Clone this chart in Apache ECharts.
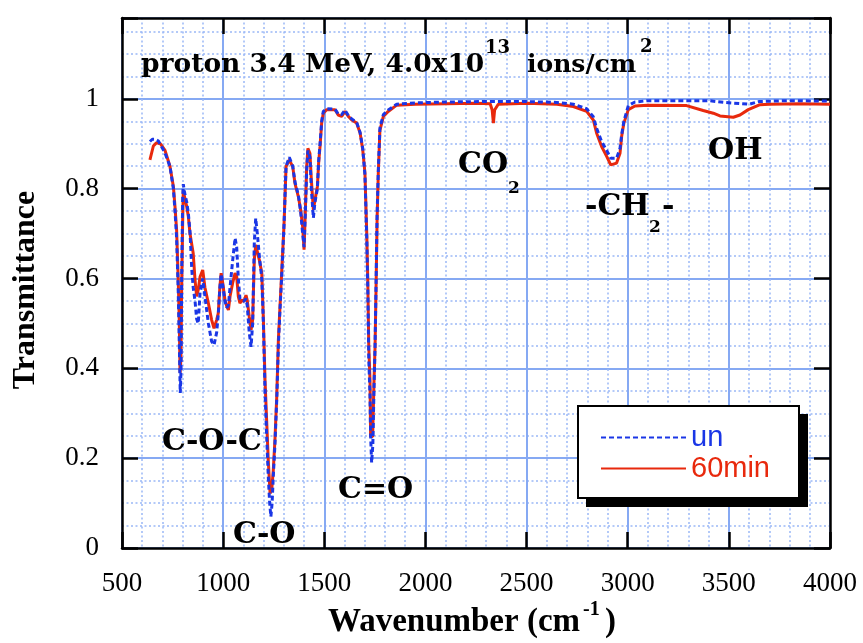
<!DOCTYPE html>
<html>
<head>
<meta charset="utf-8">
<script src="https://cdn.jsdelivr.net/npm/echarts@6/dist/echarts.min.js"></script>
<style>
  html, body { margin: 0; padding: 0; background: #fff; }
  #chart { width: 863px; height: 643px; }
</style>
</head>
<body>
<div id="chart"></div>
<script>
// wavenumber (cm-1) / transmittance pairs
const irradiated60 = [
  [638, 0.864], [655, 0.895], [670, 0.902], [690, 0.90], [712, 0.886], [737, 0.85],
  [754, 0.805], [762, 0.76], [770, 0.708], [778, 0.597], [783, 0.508], [787, 0.39],
  [791, 0.42], [795, 0.58], [800, 0.73], [803, 0.797], [810, 0.78], [820, 0.76],
  [828, 0.738], [836, 0.70], [852, 0.656], [861, 0.597], [869, 0.56], [877, 0.575],
  [886, 0.604], [899, 0.619], [910, 0.58], [927, 0.545], [943, 0.508], [955, 0.489],
  [968, 0.508], [976, 0.523], [984, 0.582], [990, 0.612], [998, 0.59], [1009, 0.552],
  [1018, 0.538], [1026, 0.53], [1034, 0.56], [1047, 0.59], [1059, 0.612], [1067, 0.604],
  [1075, 0.56], [1083, 0.545], [1092, 0.552], [1103, 0.549], [1113, 0.563], [1119, 0.552],
  [1129, 0.515], [1138, 0.486], [1146, 0.508], [1154, 0.641], [1161, 0.675], [1169, 0.675],
  [1179, 0.641], [1191, 0.612], [1199, 0.508], [1207, 0.374], [1215, 0.285], [1223, 0.196],
  [1232, 0.122], [1240, 0.129], [1248, 0.174], [1256, 0.24], [1265, 0.337], [1273, 0.463],
  [1281, 0.537], [1289, 0.61], [1301, 0.72], [1311, 0.849], [1327, 0.864], [1344, 0.849],
  [1355, 0.812], [1372, 0.782], [1383, 0.753], [1393, 0.716], [1400, 0.664], [1406, 0.745],
  [1413, 0.849], [1419, 0.89], [1429, 0.879], [1436, 0.82], [1446, 0.753], [1454, 0.775],
  [1466, 0.805], [1472, 0.857], [1479, 0.894], [1487, 0.946], [1495, 0.968], [1512, 0.976],
  [1553, 0.976], [1569, 0.964], [1586, 0.961], [1602, 0.972], [1619, 0.961], [1636, 0.953],
  [1660, 0.946], [1677, 0.924], [1690, 0.887], [1701, 0.835], [1710, 0.70], [1715, 0.597],
  [1720, 0.448], [1726, 0.374], [1729, 0.248], [1739, 0.248], [1746, 0.374], [1751, 0.448],
  [1756, 0.58], [1761, 0.73], [1767, 0.835], [1775, 0.93], [1792, 0.961], [1816, 0.972],
  [1858, 0.986], [1950, 0.988], [2100, 0.989], [2250, 0.99], [2320, 0.989], [2330, 0.975],
  [2336, 0.946], [2342, 0.975], [2360, 0.988], [2500, 0.99], [2650, 0.988], [2731, 0.983],
  [2797, 0.972], [2830, 0.953], [2846, 0.924], [2871, 0.894], [2896, 0.872], [2916, 0.853],
  [2945, 0.857], [2962, 0.879], [2970, 0.916], [2981, 0.946], [3003, 0.976], [3036, 0.984],
  [3100, 0.986], [3291, 0.985], [3373, 0.974], [3423, 0.968], [3456, 0.962], [3522, 0.959],
  [3555, 0.964], [3596, 0.976], [3654, 0.987], [3700, 0.988], [3850, 0.989], [4000, 0.988]
];

const unirradiated = [
  [638, 0.905], [650, 0.91], [665, 0.91], [680, 0.906], [700, 0.89], [712, 0.88],
  [737, 0.85], [754, 0.80], [762, 0.75], [770, 0.69], [778, 0.57], [783, 0.46],
  [788, 0.345], [792, 0.40], [795, 0.60], [800, 0.78], [803, 0.81], [810, 0.79],
  [820, 0.77], [828, 0.745], [836, 0.705], [845, 0.62], [852, 0.58], [861, 0.55],
  [869, 0.51], [877, 0.50], [886, 0.57], [899, 0.60], [910, 0.56], [927, 0.50],
  [943, 0.46], [955, 0.452], [968, 0.48], [976, 0.52], [984, 0.58], [990, 0.61],
  [998, 0.585], [1009, 0.55], [1018, 0.535], [1026, 0.54], [1034, 0.58], [1047, 0.64],
  [1059, 0.69], [1067, 0.67], [1075, 0.60], [1083, 0.555], [1092, 0.55], [1103, 0.55],
  [1113, 0.555], [1119, 0.54], [1129, 0.48], [1138, 0.448], [1146, 0.50], [1154, 0.68],
  [1161, 0.734], [1169, 0.70], [1179, 0.65], [1191, 0.60], [1199, 0.50], [1207, 0.35],
  [1215, 0.25], [1223, 0.16], [1230, 0.10], [1236, 0.07], [1242, 0.10], [1248, 0.16],
  [1256, 0.23], [1265, 0.33], [1273, 0.45], [1281, 0.53], [1289, 0.60], [1301, 0.72],
  [1311, 0.85], [1327, 0.87], [1336, 0.86], [1344, 0.85], [1355, 0.815], [1372, 0.785],
  [1383, 0.75], [1393, 0.70], [1400, 0.67], [1406, 0.74], [1413, 0.84], [1419, 0.885],
  [1429, 0.87], [1436, 0.80], [1446, 0.735], [1454, 0.77], [1466, 0.80], [1472, 0.86],
  [1479, 0.90], [1487, 0.95], [1495, 0.972], [1512, 0.978], [1553, 0.977], [1569, 0.966],
  [1586, 0.965], [1602, 0.975], [1619, 0.963], [1636, 0.955], [1660, 0.948], [1677, 0.925],
  [1690, 0.89], [1701, 0.83], [1710, 0.69], [1715, 0.58], [1720, 0.42], [1726, 0.34],
  [1729, 0.25], [1734, 0.19], [1740, 0.23], [1746, 0.36], [1751, 0.45], [1756, 0.59],
  [1761, 0.74], [1767, 0.84], [1775, 0.935], [1792, 0.965], [1816, 0.975], [1858, 0.988],
  [1950, 0.991], [2100, 0.993], [2300, 0.994], [2500, 0.994], [2650, 0.992], [2731, 0.988],
  [2797, 0.978], [2830, 0.96], [2846, 0.935], [2871, 0.905], [2896, 0.885], [2916, 0.868],
  [2945, 0.868], [2962, 0.89], [2970, 0.92], [2981, 0.95], [3003, 0.985], [3036, 0.993],
  [3100, 0.996], [3400, 0.996], [3480, 0.992], [3600, 0.988], [3650, 0.994], [3800, 0.996],
  [4000, 0.995]
];

const seriesNames = ['un', '60min'];
const xTicks = [500, 4000, 500];   // min, max, step
const yTicks = [0, 1.18, 0.2];

const BLUE = '#1a36e6';
const RED = '#e8290d';
const GRID_MAJOR = '#86a9f3';
const GRID_MINOR = '#9ab8f6';
const SERIF = '"Liberation Serif", "Times New Roman", serif';
const BOLD_SERIF = '"DejaVu Serif", serif';

const chart = echarts.init(document.getElementById('chart'), null, { renderer: 'canvas' });

const hidden = { axisLine: { show: false }, axisTick: { show: false }, axisLabel: { show: false } };
const frameLine = { show: true, onZero: false, lineStyle: { color: '#000', width: 2.5 } };
const innerTick = { show: true, inside: true, length: 16, lineStyle: { color: '#000', width: 2.5 } };

// bits of text placed on the plot
function label(text, x, y, size) {
  return {
    type: 'text', x: x, y: y, z: 20,
    style: {
      text: text, fill: '#000',
      font: 'bold ' + size + 'px ' + BOLD_SERIF,
      verticalAlign: 'middle', align: 'left'
    }
  };
}

const option = {
  animation: false,
  backgroundColor: '#fff',
  grid: { left: 122, right: 33, top: 18, bottom: 95, containLabel: false },
  xAxis: [
    // dotted minor grid every 100 cm-1
    Object.assign({ type: 'value', min: xTicks[0], max: xTicks[1], interval: 100,
      splitLine: { show: true, lineStyle: { color: GRID_MINOR, width: 1.5, type: [2, 2.5] } } }, hidden),
    {
      type: 'value', position: 'bottom', min: xTicks[0], max: xTicks[1], interval: xTicks[2],
      axisLine: frameLine, axisTick: innerTick,
      axisLabel: { color: '#000', fontFamily: SERIF, fontSize: 27, margin: 22, formatter: v => String(v) },
      splitLine: { show: true, lineStyle: { color: GRID_MAJOR, width: 2 } }
    },
    {
      type: 'value', position: 'top', min: xTicks[0], max: xTicks[1], interval: xTicks[2],
      axisLine: frameLine, axisTick: innerTick, axisLabel: { show: false }, splitLine: { show: false }
    }
  ],
  yAxis: [
    // dotted minor grid every 0.05
    Object.assign({ type: 'value', min: yTicks[0], max: yTicks[1], interval: 0.05,
      splitLine: { show: true, lineStyle: { color: GRID_MINOR, width: 1.5, type: [2, 2.5] } } }, hidden),
    {
      type: 'value', position: 'left', min: yTicks[0], max: yTicks[1], interval: yTicks[2],
      axisLine: frameLine, axisTick: innerTick,
      axisLabel: {
        color: '#000', fontFamily: SERIF, fontSize: 27, margin: 23,
        formatter: v => (Math.abs(v / 0.2 - Math.round(v / 0.2)) < 1e-6 ? String(+v.toFixed(1)) : '')
      },
      splitLine: { show: true, lineStyle: { color: GRID_MAJOR, width: 2 } }
    },
    {
      type: 'value', position: 'right', min: yTicks[0], max: yTicks[1], interval: yTicks[2],
      axisLine: frameLine, axisTick: innerTick, axisLabel: { show: false }, splitLine: { show: false }
    }
  ],
  legend: {
    orient: 'vertical', left: 578, top: 406, z: 10,
    padding: [17, 30, 15, 22],
    itemWidth: 85, itemHeight: 14, itemGap: 2,
    itemStyle: { opacity: 0 },
    textStyle: { fontFamily: '"Liberation Sans", Arial, sans-serif', fontSize: 29 },
    data: [
      { name: seriesNames[0], textStyle: { color: BLUE } },
      { name: seriesNames[1], textStyle: { color: RED } }
    ]
  },
  series: [
    {
      name: seriesNames[1], type: 'line', xAxisIndex: 1, yAxisIndex: 1,
      data: irradiated60, symbol: 'none', showSymbol: false, z: 3,
      lineStyle: { color: RED, width: 3 }, itemStyle: { color: RED }
    },
    {
      name: seriesNames[0], type: 'line', xAxisIndex: 1, yAxisIndex: 1,
      data: unirradiated, symbol: 'none', showSymbol: false, z: 4,
      lineStyle: { color: BLUE, width: 3, type: [5, 3] }, itemStyle: { color: BLUE }
    }
  ],
  graphic: [
    // legend frame with its hard drop shadow
    { type: 'rect', z: 8, shape: { x: 586, y: 414, width: 222, height: 93 }, style: { fill: '#000' } },
    { type: 'rect', z: 8, shape: { x: 578, y: 406, width: 221, height: 92 },
      style: { fill: '#fff', stroke: '#000', lineWidth: 2 } },
    // title line
    label('proton 3.4 MeV, 4.0x10', 141, 65, 26.5),
    label('13', 485, 48, 18),
    label('ions/cm', 527, 65, 25),
    label('2', 640, 47, 18),
    // band assignments
    label('CO', 458, 165, 30),
    label('2', 508, 189, 17),
    label('-CH', 585, 207, 30),
    label('2', 649, 228, 17),
    label('-', 662, 207, 30),
    label('OH', 708, 151, 30),
    label('C-O-C', 162, 442, 30),
    label('C=O', 338, 490, 30),
    label('C-O', 233, 535, 30),
    // axis names
    {
      type: 'text', x: 26, y: 290, rotation: Math.PI / 2, z: 20,
      style: { text: 'Transmittance', fill: '#000', font: 'bold 32px ' + SERIF, align: 'center', verticalAlign: 'middle' }
    },
    {
      type: 'text', x: 328, y: 622, z: 20,
      style: { text: 'Wavenumber (cm', fill: '#000', font: 'bold 33px ' + SERIF, align: 'left', verticalAlign: 'middle' }
    },
    {
      type: 'text', x: 583, y: 610, z: 20,
      style: { text: '-1', fill: '#000', font: 'bold 20px ' + SERIF, align: 'left', verticalAlign: 'middle' }
    },
    {
      type: 'text', x: 605, y: 622, z: 20,
      style: { text: ')', fill: '#000', font: 'bold 33px ' + SERIF, align: 'left', verticalAlign: 'middle' }
    }
  ]
};

chart.setOption(option);
</script>
</body>
</html>
